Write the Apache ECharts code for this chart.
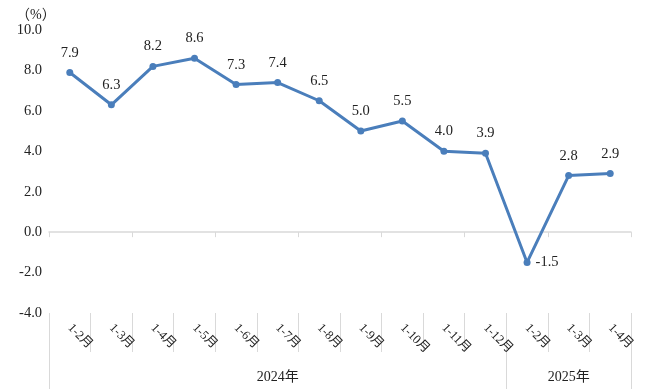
<!DOCTYPE html>
<html><head><meta charset="utf-8">
<script src="https://cdn.jsdelivr.net/npm/echarts@6/dist/echarts.min.js"></script>
<style>html,body{margin:0;padding:0;background:#fff}#c{width:668px;height:389px}</style>
</head><body><div id="c"></div>
<script>
var categories = ['1-2月','1-3月','1-4月','1-5月','1-6月','1-7月','1-8月','1-9月','1-10月','1-11月','1-12月','1-2月','1-3月','1-4月'];
var values = [7.9, 6.3, 8.2, 8.6, 7.3, 7.4, 6.5, 5.0, 5.5, 4.0, 3.9, -1.5, 2.8, 2.9];
var yearNames = ['2024年', '2025年'];
var yearCounts = [11, 3];
var yTicks = [-4, -2, 0, 2, 4, 6, 8, 10];

var bounds = [0], mids = [];
yearCounts.forEach(function (n, i) { mids.push(bounds[i] + n / 2); bounds.push(bounds[i] + n); });

var font = '"Liberation Serif", "Times New Roman", "Noto Sans CJK SC", serif';
var gray = '#d9d9d9';
var chart = echarts.init(document.getElementById('c'));
chart.setOption({
  animation: false,
  title: { text: '（%）', left: 11, top: 3, textStyle: { fontFamily: font, fontSize: 14, fontWeight: 'normal', color: '#222' } },
  grid: { left: 49, right: 37, top: 30, bottom: 76 },
  xAxis: [
    { type: 'category', data: categories, position: 'bottom',
      axisLine: { onZero: true, lineStyle: { color: gray, width: 1.5 } },
      axisTick: { show: true, length: 5, lineStyle: { color: gray } },
      axisLabel: { show: false } },
    { type: 'category', data: categories, position: 'bottom',
      axisLine: { show: false, onZero: false },
      axisTick: { show: true, length: 39, lineStyle: { color: gray } },
      axisLabel: { rotate: -45, margin: 13, fontFamily: font, fontSize: 12.5, color: '#222', interval: 0 } },
    { type: 'value', min: 0, max: bounds[bounds.length - 1], position: 'bottom',
      axisLine: { show: false, onZero: false }, splitLine: { show: false },
      axisTick: { show: true, length: 76, customValues: bounds, lineStyle: { color: gray } },
      axisLabel: { customValues: mids, margin: 57, fontFamily: font, fontSize: 14, color: '#222',
        formatter: function (v) { var i = mids.indexOf(v); return i >= 0 ? yearNames[i] : ''; } } }
  ],
  yAxis: { type: 'value', min: yTicks[0], max: yTicks[yTicks.length - 1], interval: 2,
    axisLine: { show: false }, axisTick: { show: false }, splitLine: { show: false },
    axisLabel: { margin: 7, fontFamily: font, fontSize: 14.5, color: '#222', formatter: function (v) { return v.toFixed(1); } } },
  series: [{
    type: 'line', xAxisIndex: 0,
    symbol: 'circle', symbolSize: 7,
    lineStyle: { color: '#4a7ebb', width: 3 },
    itemStyle: { color: '#4a7ebb' },
    label: { show: true, position: 'top', distance: 9, fontFamily: font, fontSize: 14.5, color: '#222',
      formatter: function (p) { return p.value.toFixed(1); } },
    data: values.map(function (v) {
      return v < 0 ? { value: v, label: { position: 'right', distance: 5 } } : v;
    })
  }]
});
</script></body></html>
